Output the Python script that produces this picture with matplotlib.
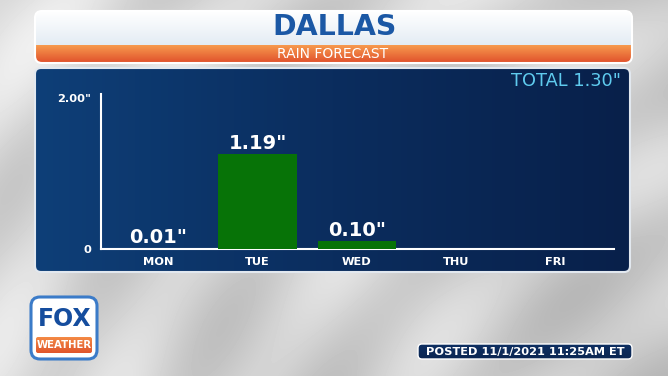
import numpy as np
import matplotlib.pyplot as plt
from matplotlib.patches import FancyBboxPatch
from matplotlib.colors import LinearSegmentedColormap

## Data ##
days = ['MON', 'TUE', 'WED', 'THU', 'FRI']
rain = [0.01, 1.19, 0.10, 0.0, 0.0]
rain_labels = ['0.01"', '1.19"', '0.10"', '', '']
total_label = 'TOTAL 1.30"'
city = 'DALLAS'
subtitle = 'RAIN FORECAST'
posted = 'POSTED 11/1/2021 11:25AM ET'

plt.rcParams['font.family'] = ['DejaVu Sans']

W, H = 668, 376
fig = plt.figure(figsize=(6.68, 3.76), dpi=100)

# full-figure axes in pixel coords for the decorations
bg = fig.add_axes([0, 0, 1, 1])
bg.axis('off')

# gray swoosh background
yy, xx = np.mgrid[0:H, 0:W]
r = np.hypot(xx - 950, yy - 760)
r2 = np.hypot(xx + 300, yy - 900)
tex = (0.81 + 0.045 * np.sin(r / 20) + 0.03 * np.sin(r2 / 45)
       + 0.06 * (1 - xx / W) - 0.03 * (yy / H))
bg.imshow(tex, cmap='gray', vmin=0, vmax=1, extent=(0, W, H, 0),
          aspect='auto', zorder=0)


def grad_box(x0, y0, x1, y1, colors, horiz=False, r=6, ec='white', lw=1.5, z=2):
    patch = FancyBboxPatch((x0, y0), x1 - x0, y1 - y0,
                           boxstyle=f'round,pad=0,rounding_size={r}',
                           fc='none', ec=ec, lw=lw, zorder=z + 1)
    bg.add_patch(patch)
    g = np.linspace(0, 1, 256)
    g = g[None, :] if horiz else g[:, None]
    cmap = LinearSegmentedColormap.from_list('g', colors)
    im = bg.imshow(g, cmap=cmap, extent=(x0, x1, y1, y0), aspect='auto', zorder=z)
    im.set_clip_path(patch)
    return patch


# header
head = grad_box(35, 11, 632, 63, ['#ffffff', '#d5e2ee'], r=7, ec='white', lw=1.5)
og = np.linspace(0, 1, 64)[:, None]
im = bg.imshow(og, cmap=LinearSegmentedColormap.from_list('o', ['#f79a4e', '#e0502b']),
               extent=(35, 632, 63, 45), aspect='auto', zorder=2.5)
im.set_clip_path(head)
bg.text(334.5, 27, city, ha='center', va='center', fontsize=20.5,
        fontweight='bold', color='#1b58a5', zorder=5)
bg.text(333, 54.5, subtitle, ha='center', va='center', fontsize=10,
        color='white', zorder=5)

# chart panel
grad_box(35, 68, 630, 272, ['#0e3f78', '#0b2d5e', '#08204a'], horiz=True,
         r=6, ec='#e2e8ef', lw=1.5)
bg.text(621, 80.5, total_label, ha='right', va='center', fontsize=12.8,
        color='#5fcbee', zorder=5)

# logo
grad_box(31, 297, 97, 359, ['#ffffff', '#ffffff'], r=9, ec='#3b7bc8', lw=2.2, z=4)
bg.text(64.5, 319.5, 'FOX', ha='center', va='center', fontsize=17,
        fontweight='bold', color='#154d9e', zorder=6)
grad_box(36, 337, 92, 353, ['#f48a45', '#e0552c'], r=2, ec='none', lw=0, z=5)
bg.text(64, 345.5, 'WEATHER', ha='center', va='center', fontsize=7.3,
        fontweight='bold', color='white', zorder=7)

# posted tag
grad_box(418, 344, 632, 359, ['#0e2f62', '#0b2652'], r=4, ec='white', lw=1, z=4)
bg.text(525.5, 351.8, posted, ha='center', va='center', fontsize=8.2,
        fontweight='bold', color='white', zorder=6)

bg.set_xlim(0, W)
bg.set_ylim(H, 0)

## Bar chart ##
left, right, base, top = 100.8, 613.7, 249.3, 89.3
ax = fig.add_axes([left / W, (H - base) / H, (right - left) / W, (base - top) / H])
ax.patch.set_alpha(0)
x = np.arange(len(days))
bars = ax.bar(x, rain, width=0.79, color='#077307', zorder=3)
for b, lab in zip(bars, rain_labels):
    if lab:
        ax.annotate(lab, (b.get_x() + b.get_width() / 2, b.get_height()),
                    xytext=(0, 4), textcoords='offset points', ha='center',
                    va='baseline', fontsize=14, fontweight='bold', color='white')

ax.set_xlim(-0.58, 4.59)
ax.set_ylim(0, 2.0)
ax.set_xticks(x)
ax.set_xticklabels(days, fontweight='bold')
ax.set_yticks([0])
ax.set_yticklabels(['0'], fontweight='bold')
ax.tick_params(length=0, colors='white', labelsize=8.2)
ax.tick_params(axis='x', pad=5.5)
ax.tick_params(axis='y', pad=7)
ax.annotate('2.00"', xy=(0, 2.0), xycoords=('axes fraction', 'data'),
            xytext=(-7, -7.3), textcoords='offset points', ha='right',
            va='center', fontsize=8.2, fontweight='bold', color='white')
for s in ['top', 'right']:
    ax.spines[s].set_visible(False)
for s in ['left', 'bottom']:
    ax.spines[s].set_color('white')
    ax.spines[s].set_linewidth(1.5)
ax.spines['left'].set_bounds(0, 1.94)

fig.savefig('out.png', dpi=100)
